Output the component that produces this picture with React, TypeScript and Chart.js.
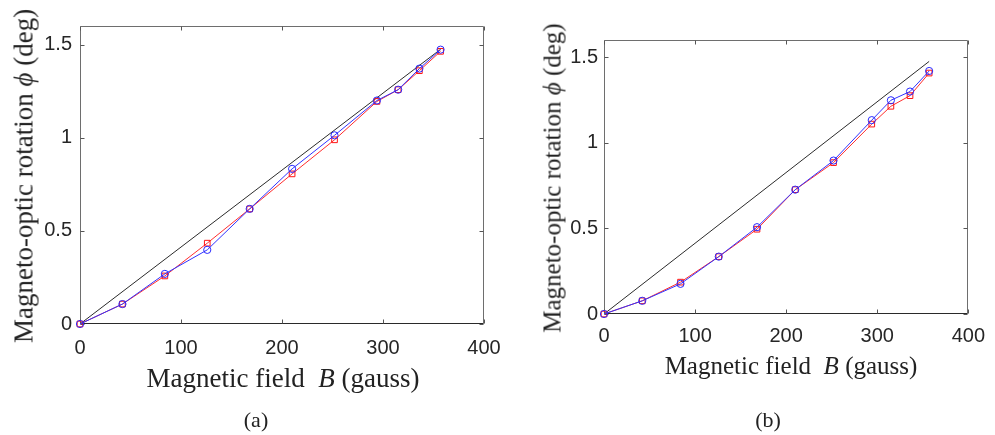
import React, { useEffect, useRef } from "react";
import { Chart, registerables } from "chart.js";

Chart.register(...registerables);

// ---- data ----
const fieldB = [0, 42, 84, 126, 168, 210, 252, 294, 315, 336, 357];
const redA = [0, 0.107, 0.258, 0.434, 0.618, 0.806, 0.989, 1.195, 1.258, 1.36, 1.464];
const blueA = [0, 0.107, 0.269, 0.398, 0.618, 0.833, 1.013, 1.2, 1.258, 1.371, 1.473];
const redB = [0, 0.077, 0.186, 0.335, 0.495, 0.726, 0.884, 1.109, 1.213, 1.275, 1.407];
const blueB = [0, 0.077, 0.176, 0.335, 0.507, 0.726, 0.896, 1.132, 1.248, 1.299, 1.419];
const theoryX = [0, 357];
const theoryY = [0, 1.475];
const xTicks = [0, 100, 200, 300, 400];
const yTicks = [0, 0.5, 1, 1.5];
const xRange = [0, 400];
const yRange = [0, 1.6];

const TICK_FONT = { family: '"Liberation Sans", Arial, sans-serif', size: 20 };
const SERIF = '"Liberation Serif", "Times New Roman", serif';

const framePlugin = {
  id: "matlabFrame",
  beforeDatasetsDraw(chart: any) {
    const { ctx, chartArea, scales } = chart;
    const L = Math.round(chartArea.left) + 0.5;
    const R = Math.round(chartArea.right) - 0.5;
    const T = Math.round(chartArea.top) + 0.5;
    const B = Math.round(chartArea.bottom) - 0.5;
    const tl = 4;
    ctx.save();
    ctx.lineWidth = 1;
    // frame
    ctx.strokeStyle = "#6e6e6e";
    ctx.beginPath();
    ctx.moveTo(L, B);
    ctx.lineTo(L, T);
    ctx.lineTo(R, T);
    ctx.lineTo(R, B);
    ctx.stroke();
    ctx.strokeStyle = "#2a2a2a";
    ctx.beginPath();
    ctx.moveTo(L, B);
    ctx.lineTo(R, B);
    ctx.stroke();
    // inward ticks
    ctx.strokeStyle = "#555";
    ctx.beginPath();
    for (const v of xTicks) {
      const x = Math.round(scales.x.getPixelForValue(v)) + 0.5;
      ctx.moveTo(x, B);
      ctx.lineTo(x, B - tl);
      ctx.moveTo(x, T);
      ctx.lineTo(x, T + tl);
    }
    for (const v of yTicks) {
      const y = Math.round(scales.y.getPixelForValue(v)) + 0.5;
      ctx.moveTo(L, y);
      ctx.lineTo(L + tl, y);
      ctx.moveTo(R, y);
      ctx.lineTo(R - tl, y);
    }
    ctx.stroke();
    ctx.restore();
  },
};

type Geom = {
  width: number;
  height: number;
  yAxisW: number;
  xAxisH: number;
  padTop: number;
  padRight: number;
  xPad: number;
  yPad: number;
};

function Panel({ red, blue, geom, left }: { red: number[]; blue: number[]; geom: Geom; left: number }) {
  const ref = useRef<HTMLCanvasElement>(null);
  useEffect(() => {
    if (!ref.current) return;
    const pts = (ys: number[], xs: number[]) => xs.map((x, i) => ({ x, y: ys[i] }));
    const chart = new Chart(ref.current, {
      type: "line",
      data: {
        datasets: [
          {
            label: "theory",
            data: pts(theoryY, theoryX),
            borderColor: "#2b2b2b",
            borderWidth: 1,
            pointRadius: 0,
            order: 2,
          },
          {
            label: "red",
            data: pts(red, fieldB),
            borderColor: "rgb(255,45,45)",
            borderWidth: 1,
            pointStyle: "rect",
            pointRadius: 4,
            pointBorderWidth: 1,
            pointBorderColor: "rgb(255,20,20)",
            pointBackgroundColor: "rgba(0,0,0,0)",
            order: 1,
          },
          {
            label: "blue",
            data: pts(blue, fieldB),
            borderColor: "rgb(50,50,255)",
            borderWidth: 1,
            pointStyle: "circle",
            pointRadius: 3.6,
            pointBorderWidth: 1,
            pointBorderColor: "rgb(40,40,255)",
            pointBackgroundColor: "rgba(0,0,0,0)",
            order: 0,
          },
        ],
      } as any,
      options: {
        responsive: false,
        animation: false,
        devicePixelRatio: 1,
        clip: false,
        events: [],
        layout: { padding: { left: 0, top: geom.padTop, right: geom.padRight, bottom: 0 } },
        plugins: { legend: { display: false }, tooltip: { enabled: false } },
        elements: { line: { tension: 0 } },
        scales: {
          x: {
            type: "linear",
            min: xRange[0],
            max: xRange[1],
            grid: { display: false, drawTicks: false },
            border: { display: false },
            ticks: {
              font: TICK_FONT,
              color: "#262626",
              padding: geom.xPad,
              maxRotation: 0,
              callback: (v: any) => String(v),
            },
            afterBuildTicks: (s: any) => {
              s.ticks = xTicks.map((value) => ({ value }));
            },
            afterFit: (s: any) => {
              s.height = geom.xAxisH;
            },
          },
          y: {
            type: "linear",
            min: yRange[0],
            max: yRange[1],
            grid: { display: false, drawTicks: false },
            border: { display: false },
            ticks: {
              font: TICK_FONT,
              color: "#262626",
              padding: geom.yPad,
              callback: (v: any) => String(v),
            },
            afterBuildTicks: (s: any) => {
              s.ticks = yTicks.map((value) => ({ value }));
            },
            afterFit: (s: any) => {
              s.width = geom.yAxisW;
            },
          },
        },
      } as any,
      plugins: [framePlugin],
    });
    return () => chart.destroy();
  }, []);
  return (
    <canvas
      ref={ref}
      width={geom.width}
      height={geom.height}
      style={{ position: "absolute", left, top: 0, width: geom.width, height: geom.height }}
    />
  );
}

const geomA: Geom = { width: 530, height: 435, yAxisW: 80, xAxisH: 111, padTop: 26, padRight: 46, xPad: 12, yPad: 8 };
const geomB: Geom = { width: 475, height: 435, yAxisW: 84, xAxisH: 121, padTop: 40, padRight: 18, xPad: 10, yPad: 6 };

function XTitle({ cx, top, size }: { cx: number; top: number; size: number }) {
  return (
    <div
      style={{
        position: "absolute",
        left: cx,
        top,
        transform: "translateX(-50%)",
        font: `${size}px ${SERIF}`,
        lineHeight: 1,
        whiteSpace: "nowrap",
        color: "#222",
      }}
    >
      Magnetic field{"\u00a0 "}
      <i>B</i> (gauss)
    </div>
  );
}

function YTitle({ cx, cy, size }: { cx: number; cy: number; size: number }) {
  return (
    <div
      style={{
        position: "absolute",
        left: cx,
        top: cy,
        transform: "translate(-50%, -50%) rotate(-90deg)",
        font: `${size}px ${SERIF}`,
        lineHeight: 1,
        whiteSpace: "nowrap",
        color: "#222",
      }}
    >
      Magneto-optic rotation <i>{"\u03D5"}</i> (deg)
    </div>
  );
}

function Caption({ cx, top, text }: { cx: number; top: number; text: string }) {
  return (
    <div
      style={{
        position: "absolute",
        left: cx,
        top,
        transform: "translateX(-50%)",
        font: `22px ${SERIF}`,
        lineHeight: 1,
        whiteSpace: "nowrap",
        color: "#222",
      }}
    >
      {text}
    </div>
  );
}

export default function App() {
  return (
    <div style={{ position: "absolute", left: 0, top: 0, width: 995, height: 435, background: "#fff", overflow: "hidden" }}>
      <Panel red={redA} blue={blueA} geom={geomA} left={0} />
      <Panel red={redB} blue={blueB} geom={geomB} left={520} />
      <XTitle cx={283} top={365} size={27} />
      <XTitle cx={791} top={353} size={25} />
      <YTitle cx={24} cy={176} size={27} />
      <YTitle cx={552} cy={178} size={25} />
      <Caption cx={256} top={409} text="(a)" />
      <Caption cx={768} top={409} text="(b)" />
    </div>
  );
}
